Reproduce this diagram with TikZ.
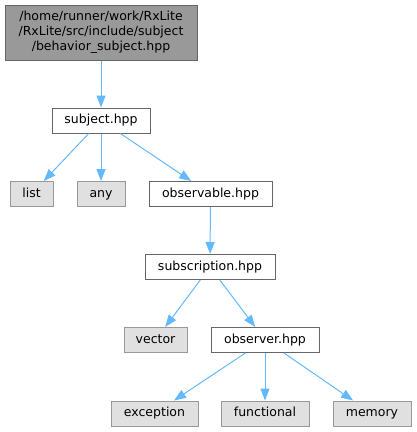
\documentclass[tikz,border=0pt]{standalone}
\usepackage{fontspec}
\setmainfont{DejaVu Sans}
\usetikzlibrary{arrows.meta}
\definecolor{edgeblue}{HTML}{63B8FF}
\definecolor{darkbd}{HTML}{666666}
\definecolor{lightbd}{HTML}{999999}
\definecolor{topfill}{HTML}{999999}
\definecolor{sysfill}{HTML}{E0E0E0}
\tikzset{
  box/.style={draw=darkbd, fill=white, line width=1pt, minimum height=25pt, inner sep=0pt,
    font=\fontsize{12.5}{15}\selectfont, text=black, anchor=center},
  onebox/.style={box, text height=9.5pt, text depth=3pt},
  sysbox/.style={onebox, draw=lightbd, fill=sysfill},
  topbox/.style={box, fill=topfill, align=center},
  edge/.style={draw=edgeblue, line width=1pt, -{Triangle[length=12pt,width=9pt]}}
}
\begin{document}
\begin{tikzpicture}[x=1pt,y=-1pt]
\useasboundingbox (0,0) rectangle (416,432);
\node[topbox, minimum width=192pt, minimum height=55pt] (top) at (101,32.5)
  {/home/runner/work/RxLite\\/RxLite/src/include/subject\\/behavior\_subject.hpp};
\node[onebox, minimum width=98pt] (subject) at (101,120.5) {subject.hpp};
\node[sysbox, minimum width=43pt] (list) at (31.5,194) {list};
\node[sysbox, minimum width=48pt] (any) at (101,194) {any};
\node[onebox, minimum width=123pt] (observable) at (210.5,194) {observable.hpp};
\node[onebox, minimum width=130pt] (subscription) at (210,267) {subscription.hpp};
\node[sysbox, minimum width=63pt] (vector) at (155.5,340) {vector};
\node[onebox, minimum width=108pt] (observer) at (265,340) {observer.hpp};
\node[sysbox, minimum width=87pt] (exception) at (154.5,413.5) {exception};
\node[sysbox, minimum width=88pt] (functional) at (265,413.5) {functional};
\node[sysbox, minimum width=78pt] (memory) at (372,413.5) {memory};
\draw[edge] (top) -- (subject);
\draw[edge] (subject) -- (list);
\draw[edge] (subject) -- (any);
\draw[edge] (subject) -- (observable);
\draw[edge] (observable) -- (subscription);
\draw[edge] (subscription) -- (vector);
\draw[edge] (subscription) -- (observer);
\draw[edge] (observer) -- (exception);
\draw[edge] (observer) -- (functional);
\draw[edge] (observer) -- (memory);
\end{tikzpicture}
\end{document}
